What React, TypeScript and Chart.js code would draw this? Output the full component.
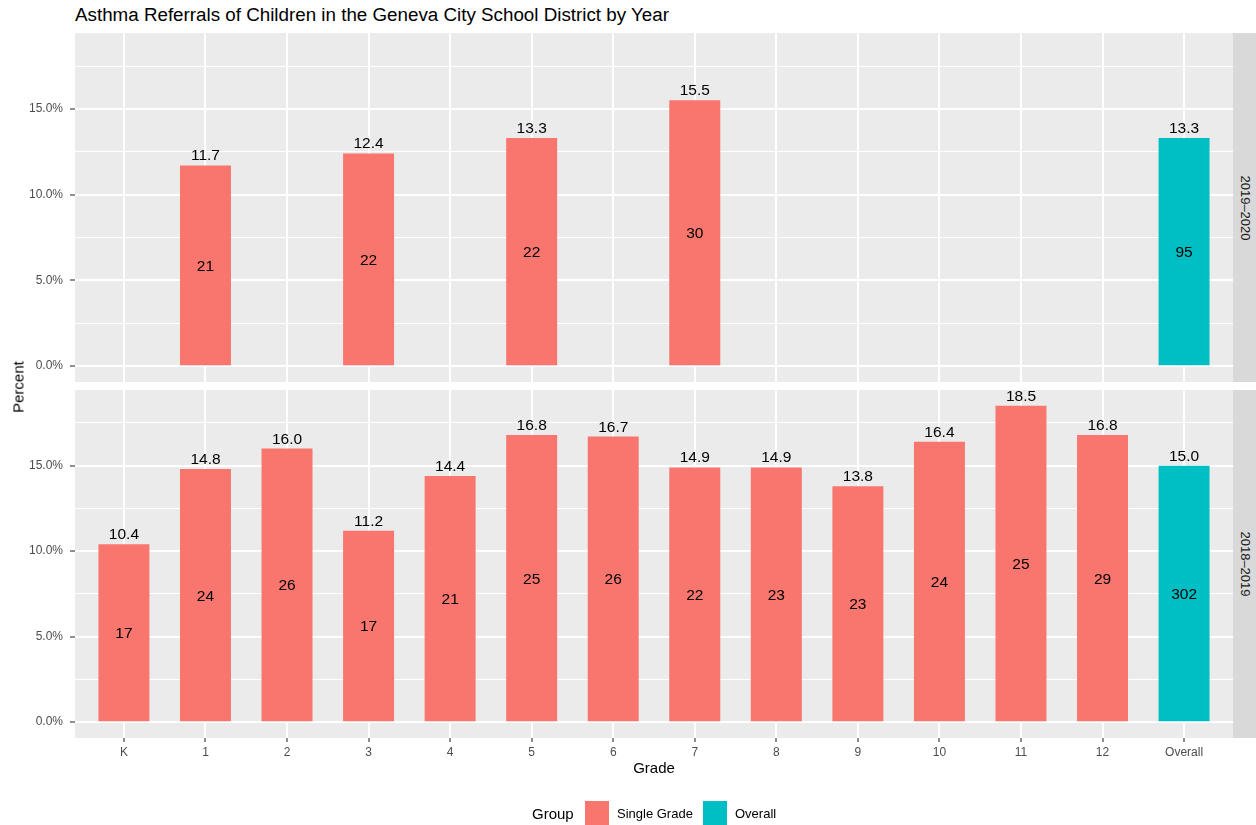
import React, { useEffect, useRef } from "react";
import { Chart, registerables } from "chart.js";

Chart.register(...registerables);

const grades = ["K", "1", "2", "3", "4", "5", "6", "7", "8", "9", "10", "11", "12", "Overall"];
const groups = ["Single Grade", "Single Grade", "Single Grade", "Single Grade", "Single Grade", "Single Grade", "Single Grade", "Single Grade", "Single Grade", "Single Grade", "Single Grade", "Single Grade", "Single Grade", "Overall"];
const years = ["2019–2020", "2018–2019"];

const pct2019: (number | null)[] = [null, 11.7, null, 12.4, null, 13.3, null, 15.5, null, null, null, null, null, 13.3];
const cnt2019: (number | null)[] = [null, 21, null, 22, null, 22, null, 30, null, null, null, null, null, 95];
const pct2018: (number | null)[] = [10.4, 14.8, 16.0, 11.2, 14.4, 16.8, 16.7, 14.9, 14.9, 13.8, 16.4, 18.5, 16.8, 15.0];
const cnt2018: (number | null)[] = [17, 24, 26, 17, 21, 25, 26, 22, 23, 23, 24, 25, 29, 302];

const yTicks = [0, 2.5, 5, 7.5, 10, 12.5, 15, 17.5];
const yMajor = [0, 5, 10, 15];

const legendGroups = ["Single Grade", "Overall"];
const groupColors: Record<string, string> = { "Single Grade": "#F8766D", Overall: "#00BFC4" };

const FONT = '"Liberation Sans", Arial, Helvetica, sans-serif';

const allVals = [...pct2019, ...pct2018].filter((v) => v != null) as number[];
const dataMax = Math.max(...allVals);
const yMin = -dataMax * 0.05;
const yMax = dataMax * 1.05;

const isMajor = (v: number) => yMajor.includes(v);

const labelPlugin = {
  id: "barLabels",
  beforeDraw(chart: any) {
    const { ctx, chartArea } = chart;
    ctx.save();
    ctx.fillStyle = "#EBEBEB";
    ctx.fillRect(chartArea.left, chartArea.top, chartArea.right - chartArea.left, chartArea.bottom - chartArea.top);
    ctx.restore();
  },
  afterDatasetsDraw(chart: any) {
    const { ctx, chartArea } = chart;
    const meta = chart.getDatasetMeta(0);
    const pct = chart.config.options.plugins.barLabels.pct as (number | null)[];
    const cnt = chart.config.options.plugins.barLabels.cnt as (number | null)[];
    ctx.save();
    ctx.beginPath();
    ctx.rect(chartArea.left, chartArea.top, chartArea.right - chartArea.left, chartArea.bottom - chartArea.top);
    ctx.clip();
    const fs = 15.5;
    ctx.font = `${fs}px ${FONT}`;
    ctx.fillStyle = "#000000";
    ctx.textAlign = "center";
    ctx.textBaseline = "alphabetic";
    pct.forEach((v, i) => {
      if (v == null) return;
      const el = meta.data[i];
      if (!el) return;
      const p = el.getProps(["x", "y", "base"], true);
      ctx.fillText(v.toFixed(1), p.x, p.y - 5);
      const mid = (p.y + p.base) / 2;
      const c = cnt[i];
      if (c != null) ctx.fillText(String(c), p.x, mid + 0.358 * fs);
    });
    ctx.restore();
  },
};

function Panel({ pct, cnt, top, height, showX }: { pct: (number | null)[]; cnt: (number | null)[]; top: number; height: number; showX: boolean }) {
  const ref = useRef<HTMLCanvasElement>(null);
  useEffect(() => {
    const canvas = ref.current!;
    const chart = new Chart(canvas, {
      type: "bar",
      data: {
        datasets: [
          {
            data: grades.map((_, i) => ({ x: i, y: pct[i] })) as any,
            backgroundColor: groups.map((g) => groupColors[g]),
            borderWidth: 0,
            categoryPercentage: 1,
            barPercentage: 0.625,
          },
        ],
      },
      options: {
        animation: false,
        responsive: false,
        devicePixelRatio: 1,
        layout: { padding: 0 },
        plugins: {
          legend: { display: false },
          tooltip: { enabled: false },
          barLabels: { pct, cnt },
        } as any,
        scales: {
          x: {
            type: "linear",
            min: -0.6,
            max: grades.length - 1 + 0.6,
            offset: false,
            border: { display: false },
            grid: {
              offset: false,
              color: "#FFFFFF",
              lineWidth: 2,
              drawTicks: showX,
              tickLength: 4,
              tickColor: "#333333",
              tickWidth: 1.1,
            } as any,
            ticks: {
              display: showX,
              autoSkip: false,
              maxRotation: 0,
              padding: 3,
              color: "#4D4D4D",
              font: { family: FONT, size: 12 },
              callback: (v: any) => grades[v as number] ?? "",
            },
            afterBuildTicks: (s: any) => {
              s.ticks = grades.map((_, i) => ({ value: i }));
            },
            afterFit: (s: any) => {
              s.height = showX ? 32 : 0;
              s.paddingLeft = 0;
              s.paddingRight = 0;
              s.paddingTop = 0;
              s.paddingBottom = 0;
            },
          },
          y: {
            type: "linear",
            min: yMin,
            max: yMax,
            border: { display: false },
            grid: {
              color: "#FFFFFF",
              lineWidth: (c: any) => (c.tick && isMajor(c.tick.value) ? 2 : 1),
              tickLength: 5,
              tickColor: (c: any) => (c.tick && isMajor(c.tick.value) ? "#333333" : "rgba(0,0,0,0)"),
              tickWidth: 1.1,
            } as any,
            ticks: {
              padding: 7,
              color: "#4D4D4D",
              font: { family: FONT, size: 12 },
              callback: (v: any) => (isMajor(v as number) ? (v as number).toFixed(1) + "%" : ""),
            },
            afterBuildTicks: (s: any) => {
              s.ticks = yTicks.map((v) => ({ value: v }));
            },
            afterFit: (s: any) => {
              s.width = 75;
              s.paddingLeft = 0;
              s.paddingRight = 0;
              s.paddingTop = 0;
              s.paddingBottom = 0;
            },
          },
        },
      },
      plugins: [labelPlugin],
    });
    return () => chart.destroy();
  }, []);
  return (
    <canvas
      ref={ref}
      width={1233}
      height={height}
      style={{ position: "absolute", left: 0, top, width: 1233, height }}
    />
  );
}

function Strip({ label, top, height }: { label: string; top: number; height: number }) {
  return (
    <div
      style={{
        position: "absolute",
        left: 1233,
        top,
        width: 23,
        height,
        background: "#D9D9D9",
      }}
    >
      <div
        style={{
          position: "absolute",
          left: 12,
          top: height / 2,
          transform: "translate(-50%, -50%) rotate(90deg)",
          whiteSpace: "nowrap",
          font: `13px ${FONT}`,
          lineHeight: "13px",
          color: "#1A1A1A",
        }}
      >
        {label}
      </div>
    </div>
  );
}

export default function App() {
  const txt = (size: number): React.CSSProperties => ({
    position: "absolute",
    whiteSpace: "nowrap",
    fontFamily: FONT,
    fontSize: size,
    fontWeight: 400,
    lineHeight: `${size}px`,
    color: "#000000",
  });
  return (
    <div style={{ position: "absolute", left: 0, top: 0, width: 1256, height: 825, background: "#FFFFFF", overflow: "hidden" }}>
      <div style={{ ...txt(18.8), left: 75, top: 5.5 }}>Asthma Referrals of Children in the Geneva City School District by Year</div>
      <Panel pct={pct2019} cnt={cnt2019} top={33} height={349} showX={false} />
      <Panel pct={pct2018} cnt={cnt2018} top={390} height={380} showX={true} />
      <Strip label={years[0]} top={33} height={349} />
      <Strip label={years[1]} top={390} height={348} />
      <div style={{ ...txt(15), left: 18, top: 387, transform: "translate(-50%, -50%) rotate(-90deg)" }}>Percent</div>
      <div style={{ ...txt(15), left: 654, top: 760, transform: "translateX(-50%)" }}>Grade</div>
      <div style={{ ...txt(15), left: 532, top: 813 - 7.5 }}>Group</div>
      <div style={{ position: "absolute", left: 585, top: 801, width: 24, height: 24, background: groupColors[legendGroups[0]] }} />
      <div style={{ ...txt(13), left: 617, top: 813 - 6.5 }}>{legendGroups[0]}</div>
      <div style={{ position: "absolute", left: 703, top: 801, width: 24, height: 24, background: groupColors[legendGroups[1]] }} />
      <div style={{ ...txt(13), left: 735, top: 813 - 6.5 }}>{legendGroups[1]}</div>
    </div>
  );
}
